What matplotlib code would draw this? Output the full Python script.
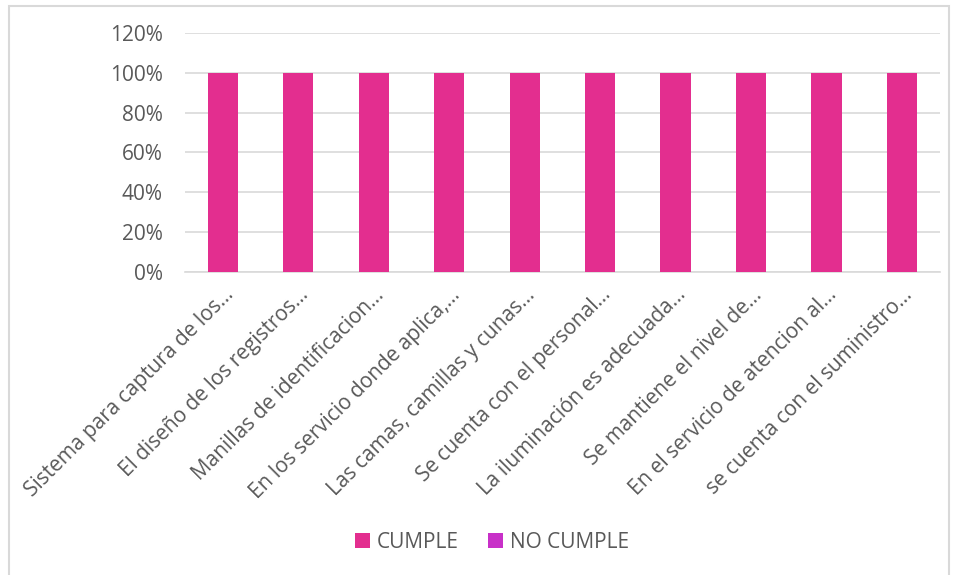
import numpy as np
import matplotlib.pyplot as plt
from matplotlib.patches import Rectangle
from matplotlib.ticker import PercentFormatter

# datos
categorias = [
    'Sistema para captura de los…',
    'El diseño de los registros…',
    'Manillas de identificacion…',
    'En los servicio donde aplica,…',
    'Las camas, camillas y cunas…',
    'Se cuenta con el personal…',
    'La iluminación es adecuada…',
    'Se mantiene el nivel de…',
    'En el servicio de atencion al…',
    'se cuenta con el suministro…',
]
cumple = [1, 1, 1, 1, 1, 1, 1, 1, 1, 1]
no_cumple = [0, 0, 0, 0, 0, 0, 0, 0, 0, 0]

plt.rcParams['font.family'] = ['Open Sans', 'DejaVu Sans']

fig = plt.figure(figsize=(9.55, 5.75), dpi=100)
ax = fig.add_axes([0.1937, 0.527, 0.7903, 0.4156])

x = np.arange(len(categorias))
w = 0.4
ax.bar(x, cumple, w, color='#E32E8F', label='CUMPLE', zorder=3)
ax.bar(x + w / 2, no_cumple, 0.0, color='#C830C8', label='NO CUMPLE', zorder=3)

ax.set_xlim(-0.5, len(categorias) - 0.5)
ax.set_ylim(0, 1.2)
ax.set_yticks(np.arange(0, 1.21, 0.2))
ax.yaxis.set_major_formatter(PercentFormatter(1.0, decimals=0))
ax.grid(axis='y', color='#D9D9D9', linewidth=1.2, zorder=0)
for s in ['top', 'right', 'left']:
    ax.spines[s].set_visible(False)
ax.spines['bottom'].set_color('#D9D9D9')
ax.spines['bottom'].set_linewidth(1.2)
ax.tick_params(axis='both', length=0, colors='#595959', labelsize=15)
ax.tick_params(axis='y', pad=16)
ax.set_xticks(x)
ax.set_xticklabels(categorias, rotation=45, ha='right', rotation_mode='anchor')
ax.tick_params(axis='x', pad=9)

leg = fig.legend(loc='center', bbox_to_anchor=(0.515, 0.057), ncol=2, frameon=False,
                 fontsize=15, handlelength=0.75, handleheight=0.75, handletextpad=0.3,
                 columnspacing=1.4)
for t in leg.get_texts():
    t.set_color('#595959')

# borde del grafico
fig.patches.append(Rectangle((0.009, -0.01), 0.985, 1.0, transform=fig.transFigure,
                             fill=False, edgecolor='#D9D9D9', linewidth=1.5))

fig.savefig('out.png', dpi=100)
